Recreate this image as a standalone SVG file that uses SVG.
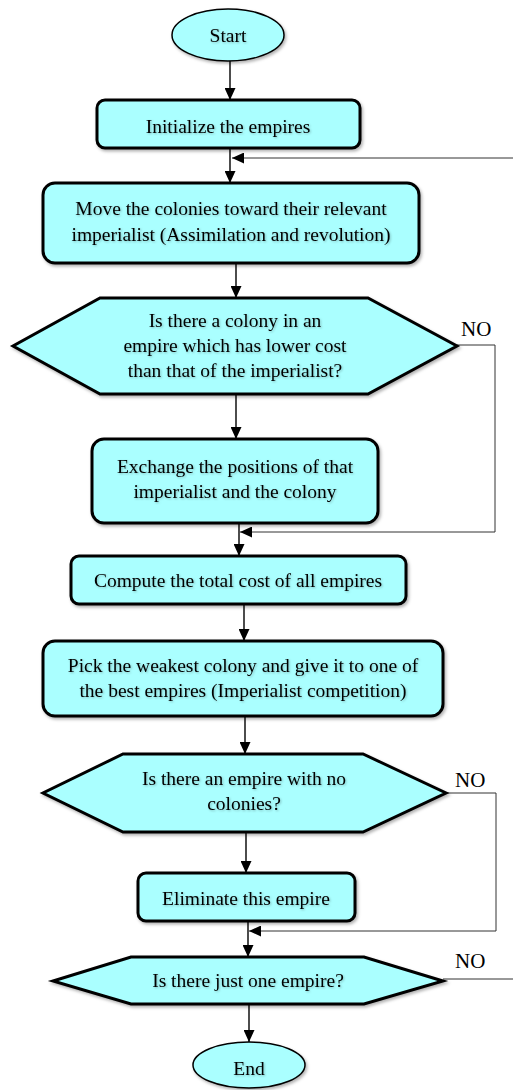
<svg xmlns="http://www.w3.org/2000/svg" width="513" height="1090" viewBox="0 0 513 1090">
<style>
.box{fill:#aaffff;stroke:#000;stroke-width:3;filter:url(#sh)}
.ell{fill:#aaffff;stroke:#000;stroke-width:1.5;filter:url(#sh)}
.t{font-family:"Liberation Serif","Times New Roman",serif;font-size:19.5px;fill:#000;text-anchor:middle;filter:url(#ts)}
.no{font-family:"Liberation Serif","Times New Roman",serif;font-size:21px;fill:#000}
.c{fill:none;stroke:#000;stroke-width:1.4}
.fb{fill:none;stroke:#333;stroke-width:1}
</style>
<defs>
<marker id="ah" markerUnits="userSpaceOnUse" markerWidth="12" markerHeight="11" refX="12" refY="5.5" orient="auto" viewBox="0 0 12 11">
<path d="M0,0 L12,5.5 L0,11 z" fill="#000"/>
</marker>
<filter id="sh" x="-10%" y="-10%" width="125%" height="130%">
<feDropShadow dx="1.5" dy="2" stdDeviation="1.5" flood-color="#000" flood-opacity="0.3"/>
</filter>
<filter id="ts" x="-5%" y="-20%" width="110%" height="150%">
<feDropShadow dx="1" dy="1" stdDeviation="0.8" flood-color="#000" flood-opacity="0.25"/>
</filter>
</defs>
<rect width="513" height="1090" fill="#fff"/>
<g id="connectors">
<line class="c" x1="230" y1="61" x2="230" y2="100" marker-end="url(#ah)"/>
<line class="c" x1="230" y1="148" x2="230" y2="183" marker-end="url(#ah)"/>
<polyline class="fb" points="513,158 232,158" marker-end="url(#ah)"/>
<line class="c" x1="236" y1="263" x2="236" y2="298" marker-end="url(#ah)"/>
<polyline class="fb" points="457,345 495,345 495,532 240,532" marker-end="url(#ah)"/>
<line class="c" x1="236" y1="394" x2="236" y2="439" marker-end="url(#ah)"/>
<line class="c" x1="239" y1="523" x2="239" y2="556" marker-end="url(#ah)"/>
<line class="c" x1="244" y1="604" x2="244" y2="641" marker-end="url(#ah)"/>
<line class="c" x1="245" y1="716" x2="245" y2="754" marker-end="url(#ah)"/>
<polyline class="fb" points="446,793 496,793 496,931 249,931" marker-end="url(#ah)"/>
<line class="c" x1="246" y1="832" x2="246" y2="873" marker-end="url(#ah)"/>
<line class="c" x1="248" y1="921" x2="248" y2="957" marker-end="url(#ah)"/>
<polyline class="fb" points="443,979 513,979"/>
<line class="c" x1="249" y1="1004" x2="249" y2="1042" marker-end="url(#ah)"/>
</g>
<g id="start">
<ellipse class="ell" cx="228" cy="35" rx="56" ry="26"/>
<text class="t" x="228" y="42">Start</text>
</g>
<g id="init">
<rect class="box" x="97" y="100" width="263" height="48" rx="8"/>
<text class="t" x="228" y="133">Initialize the empires</text>
</g>
<g id="move">
<rect class="box" x="43" y="183" width="376" height="80" rx="12"/>
<text class="t" x="231" y="215">Move the colonies toward their relevant</text>
<text class="t" x="231" y="241">imperialist (Assimilation and revolution)</text>
</g>
<g id="dec1">
<polygon class="box" points="100,298 368,298 457,346 368,394 100,394 13,346"/>
<text class="t" x="235" y="327">Is there a colony in an</text>
<text class="t" x="235" y="352">empire which has lower cost</text>
<text class="t" x="235" y="377">than that of the imperialist?</text>
<text class="no" x="461" y="336">NO</text>
</g>
<g id="exchange">
<rect class="box" x="92" y="439" width="286" height="84" rx="12"/>
<text class="t" x="235" y="473">Exchange the positions of that</text>
<text class="t" x="235" y="498">imperialist and the colony</text>
</g>
<g id="compute">
<rect class="box" x="71" y="556" width="335" height="48" rx="8"/>
<text class="t" x="238" y="587">Compute the total cost of all empires</text>
</g>
<g id="pick">
<rect class="box" x="43" y="641" width="400" height="75" rx="12"/>
<text class="t" x="243" y="672">Pick the weakest colony and give it to one of</text>
<text class="t" x="243" y="697">the best empires (Imperialist competition)</text>
</g>
<g id="dec2">
<polygon class="box" points="123,754 363,754 446,793 363,832 123,832 43,793"/>
<text class="t" x="244" y="785">Is there an empire with no</text>
<text class="t" x="244" y="810">colonies?</text>
<text class="no" x="455" y="787">NO</text>
</g>
<g id="eliminate">
<rect class="box" x="138" y="873" width="217" height="48" rx="8"/>
<text class="t" x="246" y="905">Eliminate this empire</text>
</g>
<g id="dec3">
<polygon class="box" points="131,957 364,957 443,981 364,1004 131,1004 53,981"/>
<text class="t" x="248" y="987">Is there just one empire?</text>
<text class="no" x="455" y="968">NO</text>
</g>
<g id="end">
<ellipse class="ell" cx="249" cy="1065" rx="56" ry="23"/>
<text class="t" x="249" y="1075">End</text>
</g>
</svg>
